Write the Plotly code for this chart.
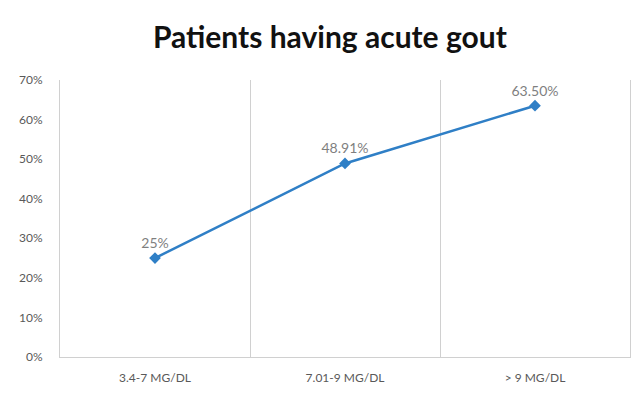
import plotly.graph_objects as go

categories = ["3.4-7 MG/DL", "7.01-9 MG/DL", "> 9 MG/DL"]
values = [25, 48.91, 63.5]
labels = ["25%", "48.91%", "63.50%"]

fig = go.Figure()
fig.add_trace(go.Scatter(
    x=categories, y=values, text=labels,
    mode="lines+markers+text",
    textposition="top center",
    textfont=dict(family="Lato", size=14, color="#7f7f7f"),
    line=dict(color="#2f7fc6", width=2.5),
    marker=dict(symbol="diamond", size=9, color="#2f7fc6"),
    cliponaxis=False,
    hoverinfo="skip",
))

fig.update_layout(
    width=638, height=393,
    margin=dict(l=60, r=8, t=80, b=36),
    paper_bgcolor="white", plot_bgcolor="white",
    showlegend=False,
    title=dict(text="<b>Patients having acute gout</b>", x=0.517, xanchor="center",
               y=0.905, yanchor="middle",
               font=dict(family="Lato", size=30, color="#111111")),
    font=dict(family="Lato", color="#595959"),
)
fig.update_xaxes(
    type="category", range=[-0.5, 2.5],
    tickson="boundaries", showgrid=True, gridcolor="#d0d0d0", gridwidth=1,
    showline=True, linecolor="#d0d0d0", mirror=False,
    ticks="", ticklabelstandoff=10,
    tickfont=dict(family="Lato", size=12, color="#595959"),
    zeroline=False,
)
fig.update_yaxes(
    range=[0, 70], dtick=10, ticksuffix="%",
    showgrid=False, showline=True, linecolor="#d0d0d0", mirror=True,
    ticks="", ticklabelstandoff=14,
    tickfont=dict(family="Lato", size=12, color="#595959"),
    zeroline=False,
)

fig.write_html("out.html")
